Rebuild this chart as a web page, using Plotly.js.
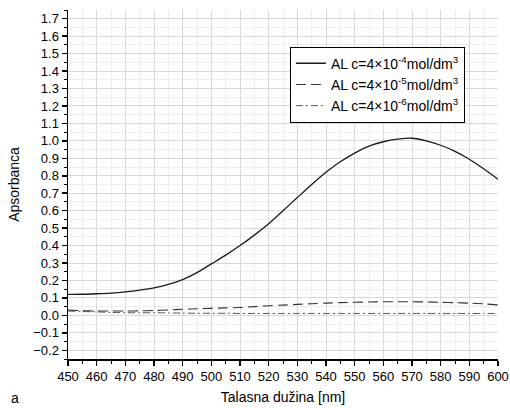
<!DOCTYPE html>
<html>
<head>
<meta charset="utf-8">
<script src="https://cdn.plot.ly/plotly-3.0.1.min.js"></script>
<style>body{margin:0;padding:0;background:#fff}#chart{width:510px;height:408px}</style>
</head>
<body>
<div id="chart"></div>
<script>
var wavelength = [450,455,460,465,470,475,480,485,490,495,500,505,510,515,520,525,530,535,540,545,550,555,560,565,570,575,580,585,590,595,600];
var absC4 = [0.12,0.121,0.124,0.128,0.135,0.145,0.158,0.178,0.205,0.245,0.295,0.345,0.40,0.46,0.525,0.60,0.675,0.75,0.82,0.88,0.93,0.97,0.995,1.01,1.015,1.0,0.975,0.94,0.895,0.84,0.78];
var absC5 = [0.03,0.027,0.025,0.025,0.025,0.026,0.028,0.031,0.035,0.038,0.04,0.043,0.045,0.05,0.055,0.059,0.063,0.067,0.07,0.073,0.075,0.077,0.078,0.078,0.078,0.077,0.075,0.073,0.07,0.066,0.06];
var absC6 = [0.025,0.022,0.02,0.017,0.015,0.015,0.015,0.014,0.013,0.012,0.012,0.012,0.011,0.011,0.011,0.011,0.011,0.011,0.011,0.011,0.011,0.011,0.011,0.011,0.011,0.011,0.011,0.011,0.011,0.011,0.011];
var seriesNames = ['AL c=4×10<sup>-4</sup>mol/dm<sup>3</sup>','AL c=4×10<sup>-5</sup>mol/dm<sup>3</sup>','AL c=4×10<sup>-6</sup>mol/dm<sup>3</sup>'];
var xTitle = 'Talasna dužina [nm]';
var yTitle = 'Apsorbanca';
var panelLabel = 'a';

var traces = [
  {x: wavelength, y: absC4, name: seriesNames[0], mode: 'lines', line: {color: '#1a1a1a', width: 1.3, dash: 'solid', shape: 'spline', smoothing: 0.8}},
  {x: wavelength, y: absC5, name: seriesNames[1], mode: 'lines', line: {color: '#333333', width: 1.1, dash: '10px,5px', shape: 'spline', smoothing: 0.8}},
  {x: wavelength, y: absC6, name: seriesNames[2], mode: 'lines', line: {color: '#555555', width: 1.0, dash: '7px,3px,2px,3px', shape: 'spline', smoothing: 0.8}}
];

var layout = {
  width: 510, height: 408,
  margin: {l: 68, r: 12, t: 10, b: 49},
  paper_bgcolor: '#fff', plot_bgcolor: '#fff',
  font: {family: 'Liberation Sans, Arial, sans-serif', size: 12, color: '#000'},
  showlegend: true,
  legend: {x: 0.516, y: 0.895, xanchor: 'left', yanchor: 'top', bgcolor: '#fff', bordercolor: '#000', borderwidth: 1,
           font: {size: 14, color: '#000'}, tracegroupgap: 0, itemwidth: 30},
  xaxis: {
    range: [450, 600], dtick: 10, tick0: 450, ticks: 'outside', ticklen: 5, tickwidth: 1.5, tickcolor: '#000',
    showline: true, linecolor: '#000', linewidth: 1.5, mirror: false, zeroline: false,
    showgrid: true, gridcolor: '#d9d9d9', gridwidth: 1,
    minor: {dtick: 5, ticks: 'outside', ticklen: 3, tickcolor: '#000', tickwidth: 1, showgrid: true, gridcolor: '#eeeeee', gridwidth: 1},
    title: {text: xTitle, font: {size: 14}, standoff: 9},
    tickfont: {size: 13}
  },
  yaxis: {
    range: [-0.25, 1.75], dtick: 0.1, tick0: 0, tickformat: '.1f', ticks: 'outside', ticklen: 5, tickwidth: 1.5, tickcolor: '#000',
    showline: true, linecolor: '#000', linewidth: 1.5, mirror: false, zeroline: false,
    showgrid: true, gridcolor: '#d9d9d9', gridwidth: 1,
    minor: {dtick: 0.05, ticks: 'outside', ticklen: 3, tickcolor: '#000', tickwidth: 1, showgrid: true, gridcolor: '#eeeeee', gridwidth: 1},
    title: {text: yTitle, font: {size: 14}, standoff: 10},
    tickfont: {size: 13}
  },
  annotations: [
    {text: panelLabel, xref: 'paper', yref: 'paper', x: -0.123, y: -0.113, xanchor: 'center', yanchor: 'middle', showarrow: false, font: {size: 14}}
  ]
};

Plotly.newPlot('chart', traces, layout, {displayModeBar: false, staticPlot: true});
</script>
</body>
</html>
